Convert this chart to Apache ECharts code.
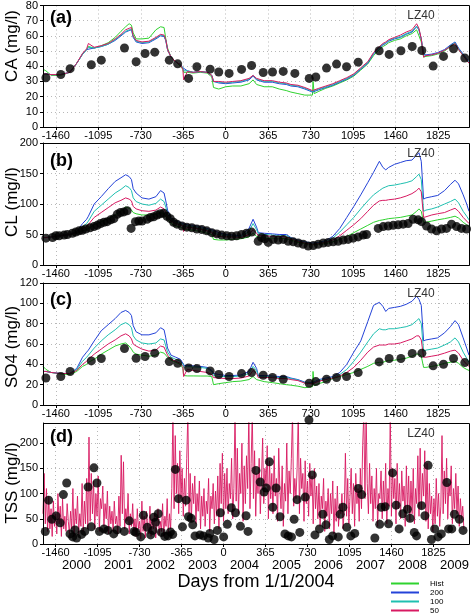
<!DOCTYPE html>
<html><head><meta charset="utf-8">
<script src="https://cdn.jsdelivr.net/npm/echarts@6/dist/echarts.min.js"></script>
<style>html,body{margin:0;padding:0;background:#fff}#c{width:472px;height:615px}</style>
</head><body><div id="c"></div>
<script>
// ---------- tick labels ----------
const dayTicks = [-1460,-1095,-730,-365,0,365,730,1095,1460,1825];
const years = ['2000','2001','2002','2003','2004','2005','2006','2007','2008','2009'];
const yearDays = [-1279,-914,-548,-183,182,548,913,1278,1643,2009];

// ---------- simulated concentration lines (shared day axis) ----------
const lineDays = [-1570,-1545,-1500,-1420,-1340,-1280,-1230,-1195,-1180,-1130,
 -1070,-1010,-950,-900,-860,-830,-810,-795,-770,-720,
 -660,-600,-560,-530,-515,-500,-470,-430,-390,-368,
 -362,-330,-280,-220,-160,-120,-105,-60,0,60,
 130,200,235,265,280,330,400,460,520,560,
 620,680,745,750,760,800,860,920,980,1040,
 1100,1160,1220,1270,1320,1350,1375,1400,1450,1500,
 1550,1600,1640,1660,1680,1700,1720,1770,1820,1880,
 1930,1970,2000,2040,2070,2090];

const caHist = [38,37,34,34,36,42,48,51,53,52,
 53.5,55.5,59,63,66,68,67,62,58,58,
 58.5,64,66,65.5,58,52,46,43,40,38,
 36,36,35.5,36,35.5,33,26,25,26.5,27,
 27,28.5,31,28,27,26.5,26.5,25,24,23,
 22,21,21,30,22,23.5,25.5,27,29,31,
 33.5,37.5,41.5,47,51,53,54,55.5,57,58,
 60,61.5,64,60,56,46,46.5,47,48,50,
 53,55,51,47,44,42];
const ca200 = [35,35,34.5,34.5,36,42,48,51,52,52,
 53,54.5,57,60,62.5,63.5,64,59,56,55,
 55.5,58,60,59.5,57,51,46,43,41,39,
 38,37,36,36.5,36,34,30,29,28.5,29,
 29.5,31,33.5,31,30,29.5,29.5,28.5,28,27,
 26.5,25,23,23,23.5,24.5,26,27.5,29.5,31.5,
 34,38,42,48,52,54,55,56.5,58,59,
 61,62.5,66,64,58,48,47.5,48,49,51,
 54,56,52,48,45,43];
const ca100 = [35,35,34.5,34.5,36,42,48,51,52.5,52,
 53,54.5,57.5,60.5,63,64,64.5,59.5,56.5,55.5,
 56,58.5,60.5,60,57,51,46,43,41,39,
 37,37,36,36.5,36,34,30,29.5,29,29.5,
 30,31.5,34,31.5,30.5,30,30,29,28.5,27.5,
 27,25.5,23.5,23.5,24,25,26.5,28,30,32,
 34.5,38.5,42.5,48.5,52.5,54.5,55.5,57,58.5,59.5,
 61.5,63,66.5,64,58,47.5,47,47.5,48.5,50.5,
 53.5,55.5,51.5,47.5,44.5,42.5];
const ca50 = [35,35,34.5,34.5,36,42,48.5,51.5,55,52.5,
 53.5,55,58,61,64,65,65.5,60,57,56,
 56.5,59,61,60.5,57.5,51,46,43,41,38,
 31,36.5,36,36.5,36,34,30,30,29.5,30,
 30.5,32,34,32,31,30.5,30.5,29.5,29,28,
 27.5,26,24,24,24.5,25.5,27,28.5,30.5,32.5,
 35,39,43,49,53,55,56,57.5,59,60.5,
 62.5,64,68,65,58,46,47,47.5,48.5,50.5,
 53,55,51,47,44,42];

const clHist = [45,45,46,48,50,52,56,58,60,66,
 71,76,82,88,95,93,90,86,84,82,
 82,83,86,84,80,75,68,64,62,60,
 58,58,57,55,52,50,42,41,41,42,
 43,46,52,47,44,44,44,44,43,41,
 37,35,33,33,33,34,35,38,42,47,
 53,59,65,70,73,74,75,76,77,78,
 80,82,88,92,88,70,70,72,74,76,
 78,80,77,70,66,63];
const cl200 = [45,45,46,48,50,55,68,75,80,100,
 112,125,137,143,148,145,140,125,118,110,
 108,112,122,118,105,90,77,72,70,68,
 67,66,65,63,60,58,55,53,50,49,
 48,60,75,62,53,52,51,50,50,45,
 41,38,36,36,36,37,40,47,60,78,
 96,115,135,152,170,160,156,160,165,168,
 171,172,180,184,170,108,110,112,114,122,
 132,139,133,115,100,88];
const cl100 = [45,45,46,48,50,54,63,68,72,88,
 98,108,118,124,130,127,122,110,104,100,
 98,101,108,104,95,84,74,70,68,66,
 62,64,63,61,58,56,52,50,48,47,
 46,55,68,58,51,50,49,48,48,44,
 40,37,35,35,35,36,38,44,54,66,
 78,92,105,115,122,126,128,130,131,133,
 135,138,145,149,140,88,90,92,95,100,
 104,108,102,88,80,74];
const cl50 = [45,45,46,48,50,53,60,63,66,78,
 86,94,102,106,110,108,105,96,92,89,
 88,90,95,92,86,79,72,68,66,64,
 55,62,61,59,56,54,48,47,46,46,
 45,50,58,52,48,48,47,47,46,43,
 39,36,34,34,34,35,37,41,48,57,
 66,76,88,98,105,106,106,107,108,110,
 113,117,122,126,120,78,79,82,84,86,
 90,93,88,78,72,68];

const so4Hist = [38,35,32,30.5,30,33,38,40,42,45,
 50,54,58,60,61,58,55,52,50,49,
 48,49,52,51,49,47,44,42,40,36,
 29,28.6,28.6,28.5,28.5,28,20,21,22,23,
 23.5,25,28,25,23.5,23,22,21,20,19.5,
 18.5,17,18,33,19,21,23,26,28,30,
 32,35,38,41,42,42,43,44,44,45,
 46,48,50,50,48,37,37,38,39,41,
 42,43,41,37,35,34];
const so4200 = [33,33,32,31,31,36,47,52,54,63,
 73,79,85,91,93,91,88,78,72,69,
 69,71,76,74,66,56,49,47,45,41,
 39,39,38.5,38,37,34,31,30,29,29,
 29.5,33,42,36,29,29,28.5,28,28,26.5,
 25,22.5,22,22,23,25,26.5,28,32,40,
 52,63,82,98,101,97,92,95,96,97,
 99,102,107,104,98,63,64,65,66,71,
 77,83,79,66,56,49];
const so4100 = [33,33,32,31,31,35,43,47,49,56,
 63,69,74,79,81,79,76,68,64,61,
 60,61,65,64,58,52,47,45,43,40,
 37,38,37.5,37,36,33,29,28,28,28,
 28.5,31,38,34,28,28,27.5,27,27,26,
 24.5,22,21.5,21.5,22.5,24,25.5,27,30,35,
 43,52,62,70,75,74,74,75,75,76,
 77,79,83,85,80,53,54,55,56,59,
 62,66,62,52,46,42];
const so450 = [33,33,32,31,31,34,40,43,45,50,
 55,60,64,68,70,68,65,60,58,55,
 53,54,58,57,53,49,45,43,41,38,
 28,35,34,33,32,30,27,26.5,26,26,
 26.5,28.5,34,31,27,27,27,26,26,25,
 24,21.5,21,21,22,23.5,25,26.5,28.5,32,
 37,44,52,57,59,59,59,60,60,61,
 63,65,68,68,64,47,47,48,49,51,
 53,54,51,44,40,38];

// ---------- observed samples ----------
const caDays = [-1545,-1417,-1337,-1155,-1069,-870,-770,-693,-610,-485,-413,-319,-248,-134,-60,29,136,222,322,402,494,594,717,774,866,952,1038,1138,1318,1404,1505,1602,1685,1782,1871,1957,2054];
const caObs = [32.4,34.6,38.4,41,44,52,43,48.4,49.3,44,41.6,32,39.7,38.1,36.2,35.3,37.9,40.5,35.9,36.2,36.6,35.3,32,32.9,38.8,41.4,39.7,42.7,50.2,47.8,50.2,53,50.4,40.1,46.5,51.5,45.4];

const clDays = [-1545,-1488,-1460,-1431,-1389,-1360,-1317,-1289,-1260,-1232,-1203,-1166,-1132,-1104,-1075,-1046,-1018,-989,-961,-932,-904,-875,-847,-813,-776,-747,-719,-676,-647,-619,-590,-562,-533,-505,-476,-448,-419,-376,-334,-291,-248,-205,-163,-120,-77,-34,9,51,93,136,179,222,279,308,336,365,408,451,494,537,580,623,666,709,752,795,838,880,923,966,1009,1052,1095,1138,1181,1210,1310,1353,1396,1439,1482,1524,1567,1610,1653,1682,1725,1768,1811,1854,1897,1940,1983,2025,2069];
const clObs = [44,45,48,48,49,50,52,54,56,57,59,61,63,65,68,70,71,74,76,83,86,87,89,60,71,72,72,75,78,79,82,84,85,80,76,70,67,64,62,61,59,58,56,53,51,49,48,47,48,50,52,54,39,45,43,37,42,41,42,39,38,36,34,31,32,34,36,37,38,39,41,42,44,46,49,50,60,63,64,65,66,67,68,75,74,71,64,59,56,59,60,67,63,60,59];

const so4Days = [-1545,-1417,-1337,-1155,-1069,-870,-770,-693,-610,-485,-413,-319,-248,-134,-60,29,136,222,322,402,494,717,774,866,952,1038,1138,1318,1404,1505,1602,1685,1782,1871,1957,2054];
const so4Obs = [26.6,28,32.9,43.4,45.7,55.6,46,47.7,51,42.7,41,36.5,35.8,33.5,30,28,30.9,31.9,29.3,27,25.3,21.4,23,25.3,27,28,31.9,42.4,45.7,45.7,50.6,51,38.5,40.1,45.7,41.7];

const tssDays = [-1550,-1521,-1493,-1456,-1421,-1393,-1364,-1335,-1312,-1292,-1278,-1235,-1207,-1178,-1150,-1127,-1101,-1079,-1040,-1006,-955,-926,-863,-820,-777,-763,-720,-697,-663,-634,-614,-606,-591,-568,-540,-511,-482,-462,-442,-419,-391,-357,-325,-305,-282,-268,-248,-205,-176,-133,-119,-82,-53,-27,1,33,68,104,147,196,213,282,319,353,371,399,428,457,491,534,563,591,614,640,663,711,743,772,795,834,863,891,920,949,998,1015,1038,1072,1107,1141,1172,1201,1316,1358,1372,1406,1435,1470,1501,1527,1559,1599,1622,1659,1679,1722,1751,1779,1808,1836,1865,1894,1942,1957,1985,2008,2051,2083];
const tssObs = [24.8,87,49,55.7,42,98,121,20,14,28,12,19,25,113,34,151,121,25,30,27,20,28,25,46,25,23,14,57,33,18,27,53,43,60,23,15,16,24,19,148,90,34,87,54,51,38,16,18,16,12,21,9,27,62,14,39,72,62,35,56,25,146,123,103,111,163,73,111,54,20,16,14,49,88,23,93,246,137,18,30,59,38,9,16,14,59,73,33,16,21,110,98,12,39,73,74,40,141,77,30,60,69,51,23,16,76,56,156,9,30,14,20,122,30,30,59,49,27];

// ---------- simulated TSS (10-day values from day -1570) ----------
const tssLineStart = -1570, tssLineStep = 10;
const tss50 = [
 60,140,40,110,25,95,30,70,15,85,35,60,20,100,40,75,15,90,30,55,
 25,80,45,20,65,30,110,15,70,40,95,20,60,35,120,25,85,40,130,30,
 212,45,140,60,125,30,100,55,135,25,90,70,115,35,80,50,105,20,75,40,
 65,25,85,40,55,20,95,35,176,60,163,30,70,45,100,20,60,35,80,25,
 50,15,70,30,45,10,85,25,55,12,65,35,20,75,15,50,30,60,12,40,
 70,18,45,25,80,15,55,35,90,20,60,30,110,260,70,215,100,160,60,185,
 90,150,55,130,75,170,260,60,140,45,120,80,135,40,100,65,125,30,95,55,
 110,35,85,60,130,25,95,70,120,40,105,55,135,30,160,80,180,45,140,70,
 150,60,120,90,170,50,110,260,85,190,60,140,100,200,45,155,80,175,110,260,
 70,160,260,90,185,55,140,100,170,60,130,210,80,150,115,195,50,165,90,140,
 60,175,95,130,45,190,110,70,155,35,120,85,200,60,145,100,170,260,75,130,
 90,150,260,60,170,110,140,45,165,80,125,55,160,95,135,40,150,70,115,50,
 120,35,95,70,130,25,85,55,110,30,100,60,125,20,90,45,115,35,80,60,
 100,30,70,180,55,130,40,95,150,60,120,35,140,80,110,45,150,70,195,260,
 90,260,120,60,160,80,135,45,110,70,150,35,100,90,145,50,125,65,160,40,
 110,75,260,55,150,90,130,40,160,70,120,50,145,85,115,35,155,65,135,45,
 125,60,150,40,110,80,175,55,190,70,140,95,185,45,160,30,120,60,95,25,
 90,40,130,55,100,35,75,215,60,145,80,170,50,120,95,155,40,110,70,140,
 60,115,35,90,50,75,30];

// ---------- build ----------
const COL = {Hist:'#2fd32f','200':'#2443d8','100':'#1fc0b0','50':'#d81a62'};
const FONT = '"Liberation Sans", Arial, sans-serif';
const tops = [5,143,283,423];
const heights = [122,122,122,121];
const grid = tops.map((t,i)=>({left:43, width:426, top:t, height:heights[i]}));
const dotted = {show:true, lineStyle:{color:'#b8b8b8', type:[1,3], width:1}};
const xAxis = tops.map((t,i)=>({
  type:'value', gridIndex:i, min:-1570, max:2090,
  axisLine:{onZero:false, lineStyle:{color:'#000', width:1}},
  axisTick:{customValues:dayTicks, length:3, lineStyle:{color:'#000'}},
  axisLabel:{customValues:dayTicks, formatter:v=>String(v), color:'#000', fontSize:11, fontFamily:FONT, margin:3},
  splitLine:dotted
}));
xAxis.push({type:'value', gridIndex:3, min:-1570, max:2090, position:'bottom', offset:12,
  axisLine:{show:false}, axisTick:{show:false}, splitLine:{show:false},
  axisLabel:{customValues:yearDays, formatter:v=>years[yearDays.indexOf(v)] || '', color:'#000', fontSize:13, fontFamily:FONT, margin:3}});
const yCfg = [[0,80,10],[0,200,50],[0,120,20],[0,240,50]];
const yAxis = yCfg.map((c,i)=>({
  type:'value', gridIndex:i, min:c[0], max:c[1], interval:c[2],
  axisLine:{show:true, onZero:false, lineStyle:{color:'#000', width:1}},
  axisTick:{show:true, length:3, lineStyle:{color:'#000'}},
  axisLabel:{color:'#000', fontSize:11, fontFamily:FONT, margin:5, showMaxLabel: i!==3},
  splitLine:dotted
}));
function zip(xs, ys){ return xs.map((x,i)=>[x, ys[i]]); }
const series = [];
function linesFor(gi, h, a, b, c){
  [['Hist',h],['200',a],['100',b],['50',c]].forEach(([n,v])=>{
    series.push({name:n, type:'line', xAxisIndex:gi, yAxisIndex:gi, data:zip(lineDays, v),
      symbol:'none', lineStyle:{width:1, color:COL[n]}, itemStyle:{color:COL[n]}, z:2});
  });
}
function dotsFor(gi, d, v){
  series.push({name:'obs', type:'scatter', xAxisIndex:gi, yAxisIndex:gi, data:zip(d, v),
    symbol:'circle', symbolSize:9, itemStyle:{color:'#000'}, z:5, clip:false});
}
linesFor(0, caHist, ca200, ca100, ca50); dotsFor(0, caDays, caObs);
linesFor(1, clHist, cl200, cl100, cl50); dotsFor(1, clDays, clObs);
linesFor(2, so4Hist, so4200, so4100, so450); dotsFor(2, so4Days, so4Obs);
series.push({name:'50', type:'line', xAxisIndex:3, yAxisIndex:3,
  data: tss50.map((v,i)=>[tssLineStart + i*tssLineStep, v]),
  symbol:'none', lineStyle:{width:1, color:COL['50'], opacity:0.9}, itemStyle:{color:COL['50']}, z:2});
dotsFor(3, tssDays, tssObs);

const yNames = [['CA (mg/l)',46],['CL (mg/l)',202],['SO4 (mg/l)',347],['TSS (mg/l)',483]];
const panelLbl = [['(a)',18],['(b)',161],['(c)',300],['(d)',437]];
const graphic = [];
// panel frames
tops.forEach((t,i)=>graphic.push({type:'rect', z:50, silent:true,
  shape:{x:43.5, y:t+0.5, width:426, height:heights[i]},
  style:{fill:'none', stroke:'#000', lineWidth:1}}));
yNames.forEach(([t,y])=>graphic.push({type:'text', x:12, y:y, rotation:Math.PI/2,
  style:{text:t, align:'center', verticalAlign:'middle', font:'17px '+FONT, fill:'#000'}}));
panelLbl.forEach(([t,y])=>graphic.push({type:'text', x:50, y:y, z:10,
  style:{text:t, align:'left', verticalAlign:'middle', font:'bold 18px '+FONT, fill:'#000'}}));
tops.forEach(t=>graphic.push({type:'text', x:421, y:t+11, z:10,
  style:{text:'LZ40', align:'center', verticalAlign:'middle', font:'12px '+FONT, fill:'#333'}}));
graphic.push({type:'text', x:256, y:582, style:{text:'Days from 1/1/2004', align:'center', verticalAlign:'middle', font:'18px '+FONT, fill:'#000'}});

const chart = echarts.init(document.getElementById('c'), null, {renderer:'canvas'});
chart.setOption({
  animation:false, backgroundColor:'#fff',
  grid, xAxis, yAxis, series, graphic,
  legend:{data:['Hist','200','100','50'], orient:'vertical', left:391, top:579, padding:0,
    icon:'rect', itemWidth:28, itemHeight:2, itemGap:0, selectedMode:false,
    textStyle:{fontSize:8, lineHeight:9, fontFamily:FONT, color:'#000', padding:[0,0,0,6]}}
});
</script></body></html>
